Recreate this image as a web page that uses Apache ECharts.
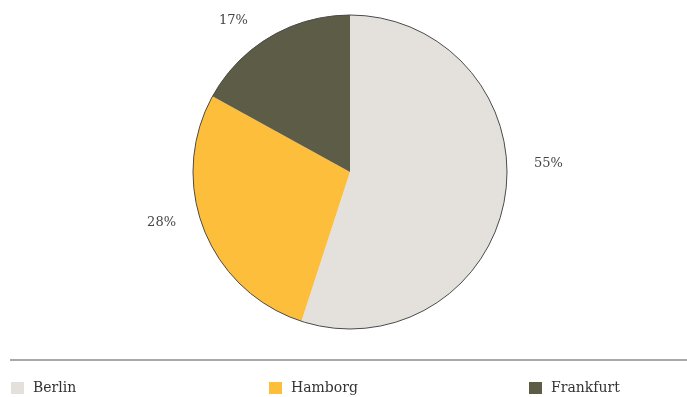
<!DOCTYPE html>
<html>
<head>
<meta charset="utf-8">
<script src="https://cdn.jsdelivr.net/npm/echarts@6/dist/echarts.min.js"></script>
<style>html,body{margin:0;padding:0;background:#fff}#c{width:687px;height:397px}</style>
</head>
<body>
<div id="c"></div>
<script>
const categories = ['Berlin', 'Hamborg', 'Frankfurt'];
const shares = [55, 28, 17];
const colors = ['#e4e0db', '#fdbf3b', '#5c5c47'];
const labelShiftY = [-35, -12, -4];

const font = '"DejaVu Serif", "Liberation Serif", serif';
const chart = echarts.init(document.getElementById('c'));
const legendLefts = [6, 264, 524];
chart.setOption({
  animation: false,
  color: colors,
  legend: categories.map((name, i) => ({
    data: [name],
    left: legendLefts[i],
    top: 376,
    itemWidth: 13,
    itemHeight: 12,
    itemGap: 10,
    icon: 'rect',
    textStyle: { fontFamily: font, fontSize: 14, color: '#333', padding: [0, 0, 0, 4] },
    selectedMode: false
  })),
  graphic: [{
    type: 'line',
    shape: { x1: 10, y1: 360, x2: 687, y2: 360 },
    style: { stroke: '#a8a8a8', lineWidth: 2 },
    silent: true
  }],
  series: [{
    type: 'pie',
    center: [350, 172],
    radius: [0, 157],
    startAngle: 90,
    clockwise: true,
    avoidLabelOverlap: false,
    data: categories.map((n, i) => ({ name: n, value: shares[i] })),
    itemStyle: { borderWidth: 0 },
    label: {
      show: true,
      position: 'outside',
      formatter: p => p.value + '%',
      fontFamily: font,
      fontSize: 13,
      color: '#444'
    },
    labelLine: { show: false, length: 14, length2: 10 },
    labelLayout: p => ({ dy: labelShiftY[p.dataIndex] }),
    emphasis: { disabled: true }
  }, {
    type: 'pie',
    center: [350, 172],
    radius: [0, 157],
    silent: true,
    data: [{ name: 'outline', value: 1 }],
    itemStyle: { color: 'rgba(0,0,0,0)', borderColor: '#4a4a4a', borderWidth: 1 },
    label: { show: false },
    labelLine: { show: false },
    emphasis: { disabled: true }
  }]
});
</script>
</body>
</html>
